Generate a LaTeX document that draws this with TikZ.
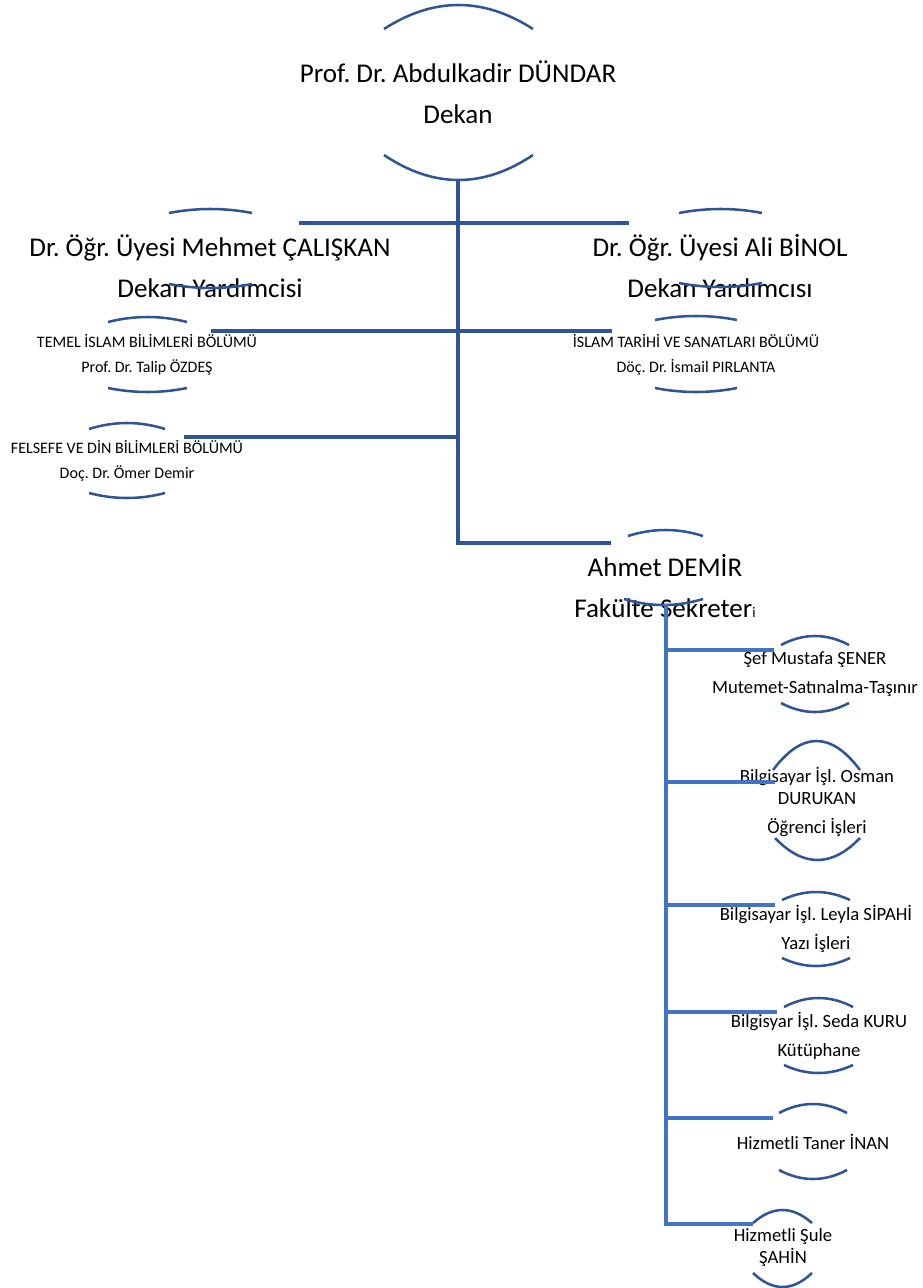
\documentclass[tikz,border=0pt]{standalone}
\usepackage{fontspec}
\setmainfont{Carlito}
\usepackage{xcolor}

\definecolor{deanblue}{HTML}{2F5597}
\definecolor{secblue}{HTML}{4472C4}

\begin{document}
\frenchspacing
\begin{tikzpicture}[x=0.75pt, y=-0.75pt,
    every node/.style = {align=center, inner sep=0pt, text=black},
    big/.style = {font=\fontsize{20.3}{30.75}\selectfont},
    dept/.style = {font=\fontsize{12}{18.75}\selectfont},
    staff/.style = {font=\fontsize{14}{21.75}\selectfont},
    link/.style = {draw=deanblue, line width=2.3pt},
    seclink/.style = {draw=secblue, line width=2.3pt},
    bow/.style = {draw=deanblue, line width=1.9pt}]
  \useasboundingbox (0,0) rectangle (923,1288);

  % people
  \node[big] (dean) at (458,92) {Prof. Dr. Abdulkadir DÜNDAR\\Dekan};
  \node[big] (vdleft) at (210,266.5) {Dr. Öğr. Üyesi Mehmet ÇALIŞKAN\\Dekan Yardımcisi};
  \node[big] (vdright) at (720,266.5) {Dr. Öğr. Üyesi Ali BİNOL\\Dekan Yardımcısı};
  \node[dept] (temel) at (147,354.5) {TEMEL İSLAM BİLİMLERİ BÖLÜMÜ\\Prof. Dr. Talip ÖZDEŞ};
  \node[dept] (tarih) at (696,355) {İSLAM TARİHİ VE SANATLARI BÖLÜMÜ\\Döç. Dr. İsmail PIRLANTA};
  \node[dept] (felsefe) at (127,461) {FELSEFE VE DİN BİLİMLERİ BÖLÜMÜ\\Doç. Dr. Ömer Demir};
  \node[big] (sekreter) at (665,586) {Ahmet DEMİR\\Fakülte Sekreter{\fontsize{11}{11}\selectfont i}};
  \node[staff] (mutemet) at (815,674.5) {Şef Mustafa ŞENER\\Mutemet-Satınalma-Taşınır};
  \node[staff] (ogrenci) at (817,801.5) {Bilgisayar İşl. Osman\\[-5.25pt]DURUKAN\\Öğrenci İşleri};
  \node[staff] (yazi) at (816,929) {Bilgisayar İşl. Leyla SİPAHİ\\Yazı İşleri};
  \node[staff] (kutuphane) at (819,1036) {Bilgisyar İşl. Seda KURU\\Kütüphane};
  \node[staff] (taner) at (813,1142) {Hizmetli Taner İNAN};
  \node[staff] (sule) at (783,1248) {Hizmetli Şule\\[-5.25pt]ŞAHİN};

  % bows above and below each name
  \foreach \xa/\xb/\ya/\yb in {384/533/29/5, 384/533/155/180,
      169/252/213/209, 169/252/284/288, 679/762/213/209, 679/762/283/287,
      108/187/322/317, 108/187/388/392, 89/165/429/423, 89/165/493/498,
      655/737/320/316, 655/737/388/392, 628/703/536/530, 624/703/599/605,
      781/849/645/636, 781/849/703/712, 773/860/770/741, 775/860/838/860,
      782/850/900/892, 782/850/958/966, 784/853/1007/998, 784/853/1065/1073,
      779/847/1113/1104, 779/847/1170/1179, 753/812/1223/1210, 753/812/1273/1287}
    \draw[bow] (\xa,\ya) .. controls ({\xa+(\xb-\xa)/3},{\ya+(\yb-\ya)*4/3})
      and ({\xb-(\xb-\xa)/3},{\ya+(\yb-\ya)*4/3}) .. (\xb,\ya);

  % dean's lines
  \coordinate (deanfoot) at (458,180);
  \coordinate (deanend) at (458,543);
  \coordinate (secjoin) at (611,543);
  \coordinate (vdl) at (299,223);
  \coordinate (vdr) at (629,223);
  \coordinate (temelend) at (211,331);
  \coordinate (tarihend) at (612,331);
  \coordinate (felsefeend) at (184,437);
  \coordinate (felsefejoin) at (458,437);
  \draw[link] (deanfoot) -- (deanend) -- (secjoin);
  \draw[link] (vdl) -- (vdr);
  \draw[link] (temelend) -- (tarihend);
  \draw[link] (felsefeend) -- (felsefejoin);

  % secretary's lines
  \coordinate (secfoot) at (666,604);
  \coordinate (secend) at (666,1224);
  \coordinate (suleend) at (753,1224);
  \draw[seclink] (secfoot) -- (secend) -- (suleend);
  \foreach \n/\y/\x in {1/650/774, 2/782/775, 3/905/775, 4/1012/777, 5/1118/773} {
    \coordinate (sj\n) at (666,\y);
    \coordinate (se\n) at (\x,\y);
    \draw[seclink] (sj\n) -- (se\n);
  }
\end{tikzpicture}
\end{document}
